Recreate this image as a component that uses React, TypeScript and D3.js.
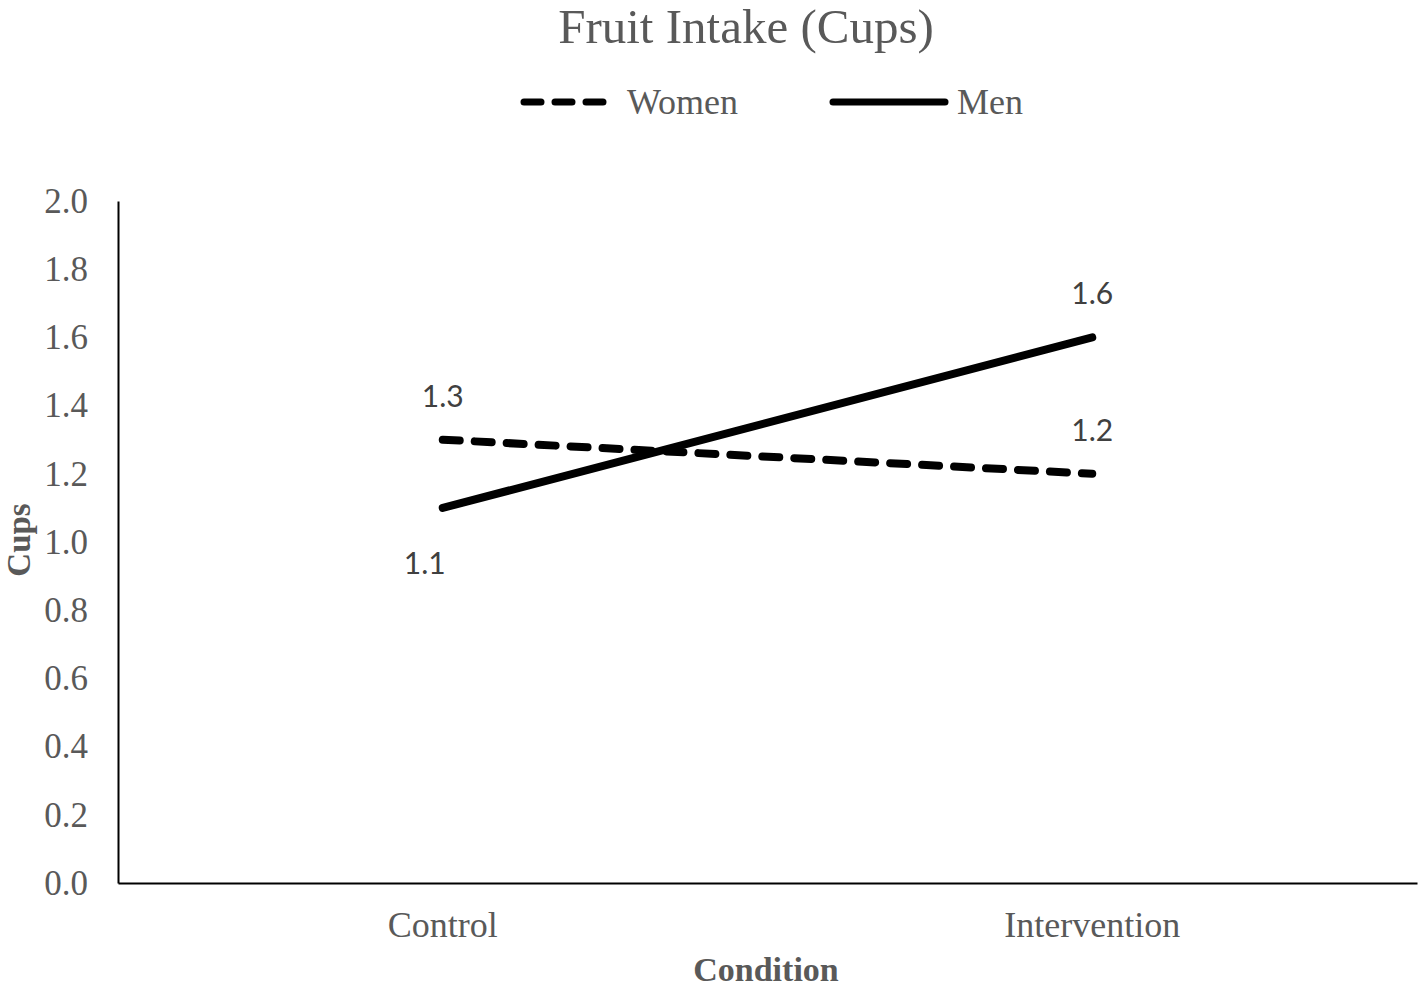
import React, { useEffect, useRef } from 'react';
import * as d3 from 'd3';

const conditions = ['Control', 'Intervention'];
const seriesNames = ['Women', 'Men'];
const womenValues = [1.3, 1.2];
const menValues = [1.1, 1.6];
const yTicks = [0, 0.2, 0.4, 0.6, 0.8, 1.0, 1.2, 1.4, 1.6, 1.8, 2.0];

const serif = '"Liberation Serif", "Times New Roman", serif';
const sans = 'Lato, "Liberation Sans", sans-serif';
const grey = '#595959';

export default function App() {
  const ref = useRef<SVGSVGElement>(null);

  useEffect(() => {
    const w = 1421;
    const h = 988;
    const margin = { top: 201, right: 4, bottom: 105, left: 118 };

    const svg = d3.select(ref.current);
    svg.selectAll('*').remove();

    const x = d3.scaleBand()
      .domain(conditions)
      .range([margin.left, w - margin.right]);

    const y = d3.scaleLinear()
      .domain([0, 2])
      .range([h - margin.bottom, margin.top]);

    const cx = (c: string) => (x(c) as number) + x.bandwidth() / 2;

    // title
    svg.append('text')
      .attr('x', 746)
      .attr('y', 43)
      .attr('text-anchor', 'middle')
      .style('font-family', serif)
      .style('font-size', '49px')
      .attr('fill', grey)
      .text('Fruit Intake (Cups)');

    // legend
    const legend = [
      { name: seriesNames[0], x1: 524, x2: 606, dash: '17 14', tx: 627 },
      { name: seriesNames[1], x1: 833, x2: 945, dash: null, tx: 957 },
    ];
    legend.forEach(l => {
      svg.append('line')
        .attr('x1', l.x1).attr('x2', l.x2)
        .attr('y1', 102).attr('y2', 102)
        .attr('stroke', '#000')
        .attr('stroke-width', 7)
        .attr('stroke-linecap', 'round')
        .attr('stroke-dasharray', l.dash);
      svg.append('text')
        .attr('x', l.tx)
        .attr('y', 114)
        .style('font-family', serif)
        .style('font-size', '36px')
        .attr('fill', grey)
        .text(l.name);
    });

    // y axis
    const yAxis = svg.append('g')
      .attr('transform', `translate(${margin.left},0)`)
      .call(d3.axisLeft(y).tickValues(yTicks).tickSize(0).tickPadding(30).tickFormat(d3.format('.1f')));
    yAxis.select('.domain').attr('stroke', '#000').attr('stroke-width', 2);
    yAxis.selectAll('text')
      .style('font-family', serif)
      .style('font-size', '35px')
      .attr('fill', grey);

    // x axis
    const xAxis = svg.append('g')
      .attr('transform', `translate(0,${h - margin.bottom})`)
      .call(d3.axisBottom(x).tickSize(0).tickPadding(28));
    xAxis.select('.domain').attr('stroke', '#000').attr('stroke-width', 2);
    xAxis.selectAll('text')
      .style('font-family', serif)
      .style('font-size', '36px')
      .attr('fill', grey);

    // axis titles
    svg.append('text')
      .attr('x', 766)
      .attr('y', 981)
      .attr('text-anchor', 'middle')
      .style('font-family', serif)
      .style('font-size', '34px')
      .style('font-weight', 'bold')
      .attr('fill', grey)
      .text('Condition');

    svg.append('text')
      .attr('transform', 'translate(30,540) rotate(-90)')
      .attr('text-anchor', 'middle')
      .style('font-family', serif)
      .style('font-size', '33px')
      .style('font-weight', 'bold')
      .attr('fill', grey)
      .text('Cups');

    const line = d3.line<number>()
      .x((d, i) => cx(conditions[i]))
      .y(d => y(d));

    svg.append('path')
      .datum(womenValues)
      .attr('d', line)
      .attr('fill', 'none')
      .attr('stroke', '#000')
      .attr('stroke-width', 8)
      .attr('stroke-linecap', 'round')
      .attr('stroke-dasharray', '17 15');

    svg.append('path')
      .datum(menValues)
      .attr('d', line)
      .attr('fill', 'none')
      .attr('stroke', '#000')
      .attr('stroke-width', 8)
      .attr('stroke-linecap', 'round');

    // data labels
    const labels = [
      { v: womenValues[0], c: conditions[0], dx: 0, dy: -33 },
      { v: womenValues[1], c: conditions[1], dx: 0, dy: -33 },
      { v: menValues[0], c: conditions[0], dx: -18, dy: 66 },
      { v: menValues[1], c: conditions[1], dx: 0, dy: -33 },
    ];
    svg.selectAll('text.lbl')
      .data(labels)
      .join('text')
      .attr('class', 'lbl')
      .attr('x', d => cx(d.c) + d.dx)
      .attr('y', d => y(d.v) + d.dy)
      .attr('text-anchor', 'middle')
      .style('font-family', sans)
      .style('font-size', '30px')
      .attr('fill', '#404040')
      .text(d => d3.format('.1f')(d.v));
  }, []);

  return (
    <svg ref={ref} width={1421} height={988} style={{ position: 'absolute', left: 0, top: 0 }} />
  );
}
